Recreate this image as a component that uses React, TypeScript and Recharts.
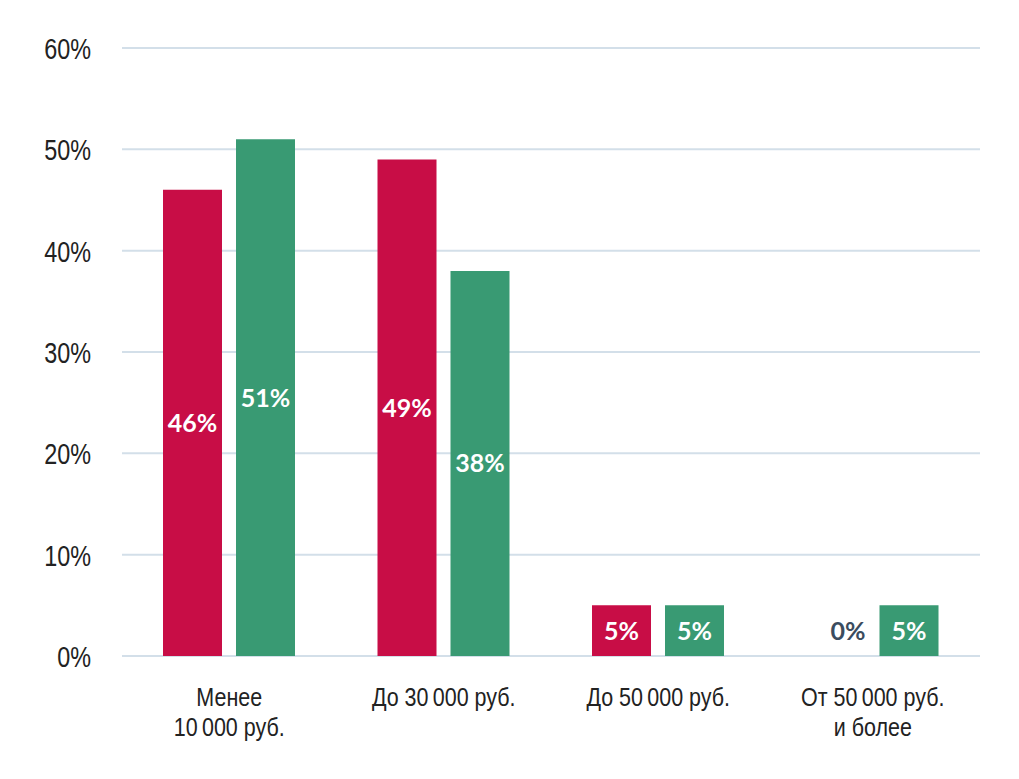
import React from 'react';
import { BarChart, Bar, XAxis, YAxis, CartesianGrid, Rectangle } from 'recharts';

const categories = ['Менее\n10\u2009000 руб.', 'До 30\u2009000 руб.', 'До 50\u2009000 руб.', 'От 50\u2009000 руб.\nи более'];
const redValues = [46, 49, 5, 0];
const greenValues = [51, 38, 5, 5];
const yTicks = [0, 10, 20, 30, 40, 50, 60];

const data = categories.map((name, i) => ({ name, red: redValues[i], green: greenValues[i] }));

const RED = '#c80d46';
const GREEN = '#399a73';
const TICK_FONT = '"Liberation Sans", Arial, sans-serif';

function CategoryTick({ x, y, payload }: any) {
  const lines = String(payload.value).split('\n');
  return (
    <g transform={`translate(${x},${y}) scale(0.86,1)`}>
      <text x={0} y={0} textAnchor="middle" fill="#222" fontSize={25} fontFamily={TICK_FONT}>
        {lines.map((l, i) => (
          <tspan key={i} x={0} dy={i === 0 ? 42 : 30}>{l}</tspan>
        ))}
      </text>
    </g>
  );
}

function ValueTick({ x, y, payload }: any) {
  return (
    <g transform={`translate(${x},${y}) scale(0.78,1)`}>
      <text x={0} y={0} dy={11} textAnchor="end" fill="#222" fontSize={30} fontFamily={TICK_FONT}>
        {payload.value}%
      </text>
    </g>
  );
}

function ValueLabel({ x, y, width, height, value }: any) {
  if (!value) {
    // empty bar: label sits just left of the neighbouring bar, at the height of a small bar's label
    return (
      <text x={x + width} y={y + height - 25} dy={9} textAnchor="end" fill="#3b4c5e"
        fontSize={25} fontWeight={700} fontFamily="Lato, sans-serif">
        {value}%
      </text>
    );
  }
  return (
    <text x={x + width / 2} y={y + height / 2} dy={9} textAnchor="middle" fill="#fff"
      fontSize={25} fontWeight={700} fontFamily="Lato, sans-serif">
      {value}%
    </text>
  );
}

// zero values keep a 1px slot so their label is drawn, but no rectangle
function BarShape(props: any) {
  if (!props.value) return <g />;
  return <Rectangle {...props} />;
}

export default function App() {
  return (
    <div style={{ position: 'absolute', left: 0, top: 0, width: 1019, height: 779, background: '#fff' }}>
      <BarChart width={1019} height={779} data={data} margin={{ top: 48, right: 39, bottom: 0, left: 0 }}
        barSize={59} barGap={14}>
        <CartesianGrid vertical={false} stroke="#d3dfe9" strokeWidth={2} />
        <XAxis dataKey="name" axisLine={false} tickLine={false} tick={<CategoryTick />} interval={0} height={123} />
        <YAxis width={122} domain={[0, 60]} ticks={yTicks} axisLine={false} tickLine={false} tickSize={0} tickMargin={31}
          tick={<ValueTick />} />
        <Bar dataKey="red" fill={RED} isAnimationActive={false} minPointSize={1} shape={<BarShape />} label={<ValueLabel />} />
        <Bar dataKey="green" fill={GREEN} isAnimationActive={false} label={<ValueLabel />} />
      </BarChart>
    </div>
  );
}
